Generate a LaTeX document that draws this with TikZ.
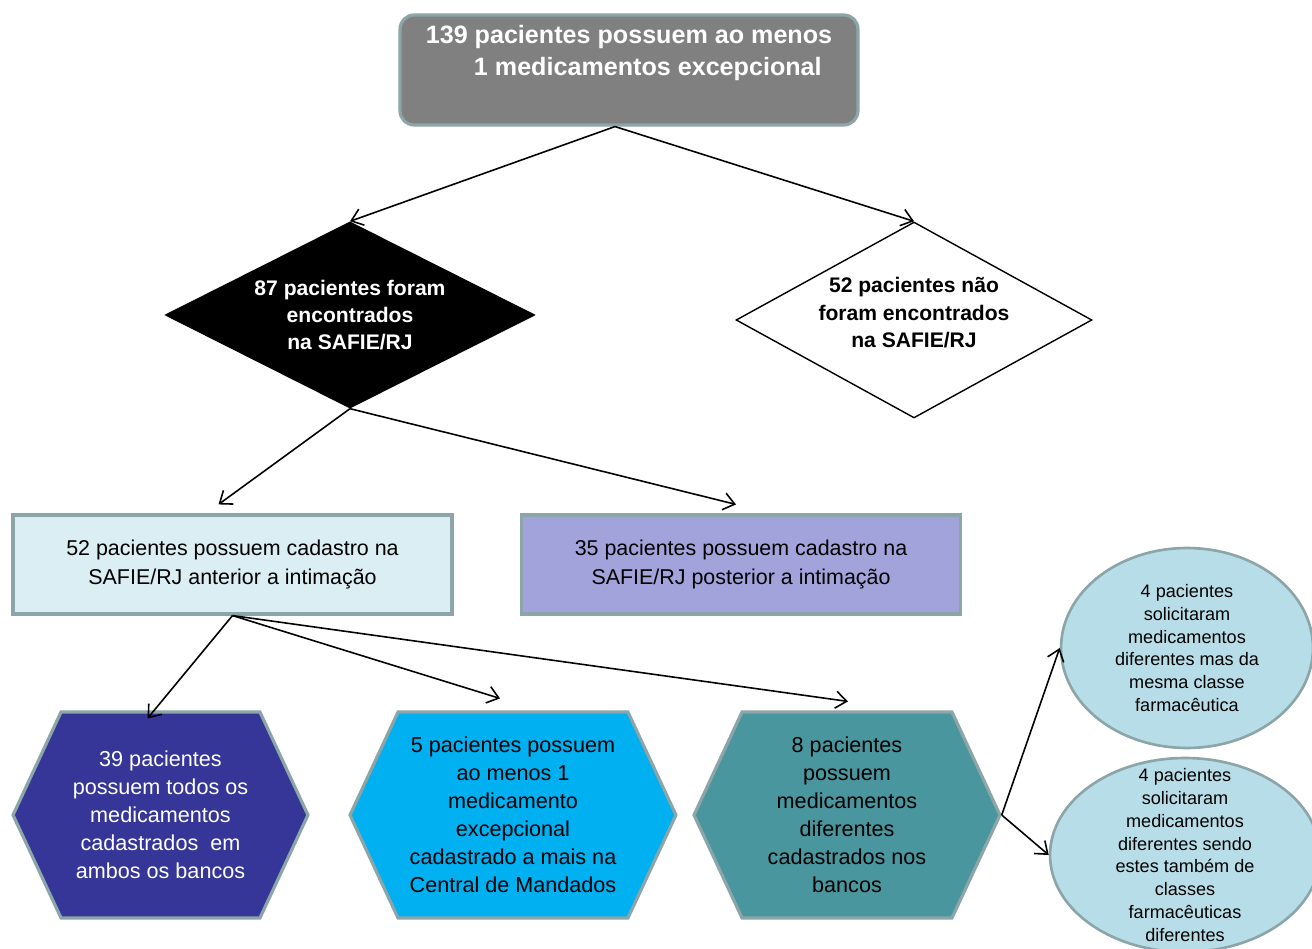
\documentclass[tikz,border=0pt]{standalone}
\usepackage{fontspec}
\setmainfont{Liberation Sans}
\usetikzlibrary{arrows.meta,shapes.geometric,shapes.symbols,calc}
\definecolor{slate}{RGB}{128,128,128}
\definecolor{rim}{RGB}{140,165,168}
\definecolor{pale}{RGB}{218,238,243}
\definecolor{lilac}{RGB}{163,163,220}
\definecolor{indigo}{RGB}{54,54,152}
\definecolor{sky}{RGB}{0,176,240}
\definecolor{sea}{RGB}{74,150,158}
\definecolor{mist}{RGB}{183,222,232}
\tikzset{
  >={Straight Barb[length=2.2mm,width=3.4mm]},
  flow/.style={->,line width=0.9pt,draw=black},
  headbox/.style={fill=slate,draw=rim,line width=1.8pt,rounded corners=8pt,
    minimum width=9.16cm,minimum height=2.2cm,align=center,text=white,
    font=\fontsize{14.3}{18.1}\selectfont\bfseries},
  rhomb/.style={diamond,draw=black,fill=#1,line width=0.8pt,inner sep=0pt,
    align=center,font=\fontsize{12}{15.6}\selectfont\bfseries},
  rhomb/.default=white,
  card/.style={rectangle,draw=rim,fill=#1,line width=1.8pt,minimum width=8.78cm,
    minimum height=1.98cm,align=center,font=\fontsize{12.2}{16.2}\selectfont},
  hexa/.style={signal,signal to=west and east,signal pointer angle=130,
    draw=rim,fill=#1,line width=1.8pt,minimum height=4.12cm,inner sep=0pt,
    align=center,font=\fontsize{12.3}{15.9}\selectfont},
  oval/.style={ellipse,draw=rim,fill=mist,line width=1.5pt,inner sep=0pt,
    align=center,font=\fontsize{10.3}{13}\selectfont},
}
\begin{document}
\begin{tikzpicture}[x=0.02cm,y=-0.02cm]
  \useasboundingbox (0,0) rectangle (1312,949);
  % top
  \node[headbox] (top) at (629,70) {139 pacientes possuem ao menos\\\hspace*{1.5em}1 medicamentos excepcional\\[4.5pt]\mbox{}};
  % diamonds
  \node[rhomb=black,text=white,aspect=2,minimum width=7.38cm,minimum height=3.72cm] (found) at (350,315)
    {87 pacientes foram\\encontrados\\na SAFIE/RJ};
  \node[rhomb,aspect=1.82,minimum width=7.12cm,minimum height=3.92cm] (lost) at (914,320)
    {52 pacientes não\\foram encontrados\\na SAFIE/RJ\\[-7pt]\mbox{}};
  \draw[flow] ($(top.south)+(-14,0)$) -- (found.north);
  \draw[flow] ($(top.south)+(-14,0)$) -- (lost.north);
  % registration
  \node[card=pale] (before) at (232.5,564.5) {52 pacientes possuem cadastro na\\SAFIE/RJ anterior a intimação};
  \node[card=lilac] (after) at (741,564.5) {35 pacientes possuem cadastro na\\SAFIE/RJ posterior a intimação};
  \draw[flow] (found.south) -- ($(before.north)+(-14,-9)$);
  \draw[flow] (found.south) -- ($(after.north)+(-5,-9)$);
  % hexagons
  \node[hexa=indigo,text=white,minimum width=5.9cm] (all) at (160.5,815)
    {39 pacientes\\possuem todos os\\medicamentos\\cadastrados\ \ em\\ambos os bancos};
  \node[hexa=sky,minimum width=6.52cm] (extra) at (513,815)
    {5 pacientes possuem\\ao menos 1\\medicamento\\excepcional\\cadastrado a mais na\\Central de Mandados};
  \node[hexa=sea,text=black,minimum width=6.12cm] (diff) at (847,815)
    {8 pacientes\\possuem\\medicamentos\\diferentes\\cadastrados nos\\bancos};
  \draw[flow] (before.south) -- ($(all.north)+(-13,8)$);
  \draw[flow] (before.south) -- ($(extra.north)+(-13,-12)$);
  \draw[flow] (before.south) -- ($(diff.north)+(1,-9)$);
  % ellipses
  \node[oval,minimum width=5.04cm,minimum height=4cm] (same) at (1187,648)
    {4 pacientes\\solicitaram\\medicamentos\\diferentes mas da\\mesma classe\\farmacêutica};
  \node[oval,inner ysep=-13pt,minimum width=5.4cm,minimum height=3.88cm] (other) at (1185,855)
    {4 pacientes\\solicitaram\\medicamentos\\diferentes sendo\\estes também de\\classes\\farmacêuticas\\diferentes};
  \draw[flow] (diff.east) -- (same.west);
  \draw[flow] (diff.east) -- (other.west);
\end{tikzpicture}
\end{document}
